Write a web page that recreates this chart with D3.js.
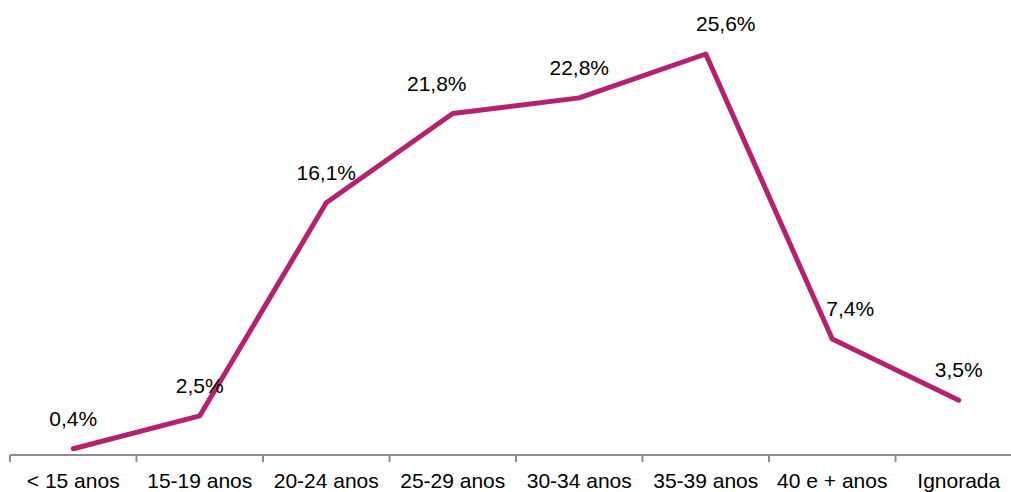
<!DOCTYPE html>
<html>
<head>
<meta charset="utf-8">
<script src="https://cdn.jsdelivr.net/npm/d3@7"></script>
<style>
  body { margin: 0; background: #fff; }
  svg { display: block; }
</style>
</head>
<body>
<svg id="chart" width="1011" height="492"></svg>
<script>
// data
var categories = ["< 15 anos", "15-19 anos", "20-24 anos", "25-29 anos", "30-34 anos", "35-39 anos", "40 e + anos", "Ignorada"];
var values = [0.4, 2.5, 16.1, 21.8, 22.8, 25.6, 7.4, 3.5];
var labels = ["0,4%", "2,5%", "16,1%", "21,8%", "22,8%", "25,6%", "7,4%", "3,5%"];

// label nudges, like the original placement
var labelDx = [0, 0, 0, -16, 0, 20, 18, 0];

var margin_left = 10, axis_y = 455, band_w = 126.5;
var line_color = "#b5216e", axis_color = "#8c8c8c";
var fontSize = 21;

var svg = d3.select("#chart");

var x = d3.scaleBand()
    .domain(categories)
    .range([margin_left, margin_left + band_w * categories.length]);

var y = d3.scaleLinear()
    .domain([0, 25.6])
    .range([axis_y, 54]);

//Axis
var axis = svg.append("g")
    .attr("transform", "translate(0," + axis_y + ")");
axis.append("line")
    .attr("x1", x.range()[0])
    .attr("x2", x.range()[1])
    .attr("stroke", axis_color)
    .attr("stroke-width", 2);
axis.selectAll("line.tick")
    .data(d3.range(categories.length + 1))
    .enter().append("line")
    .attr("class", "tick")
    .attr("x1", function(d){ return x.range()[0] + d * x.bandwidth(); })
    .attr("x2", function(d){ return x.range()[0] + d * x.bandwidth(); })
    .attr("y1", 0)
    .attr("y2", 7)
    .attr("stroke", axis_color)
    .attr("stroke-width", 2);
axis.selectAll("text")
    .data(categories)
    .enter().append("text")
    .text(function(d){ return d; })
    .attr("x", function(d){ return x(d) + x.bandwidth() / 2; })
    .attr("y", 33)
    .attr("text-anchor", "middle")
    .attr("font-family", "Liberation Sans, Arial, sans-serif")
    .attr("font-size", fontSize)
    .attr("fill", "#000");

//Line
var line = d3.line()
    .x(function(d, i){ return x(categories[i]) + x.bandwidth() / 2; })
    .y(function(d){ return y(d); });

svg.append("path")
    .datum(values)
    .attr("d", line)
    .attr("fill", "none")
    .attr("stroke", line_color)
    .attr("stroke-width", 5)
    .attr("stroke-linejoin", "round")
    .attr("stroke-linecap", "round");

// Labels
svg.selectAll("text.lbl")
    .data(values)
    .enter().append("text")
    .attr("class", "lbl")
    .text(function(d, i){ return labels[i]; })
    .attr("x", function(d, i){ return x(categories[i]) + x.bandwidth() / 2 + labelDx[i]; })
    .attr("y", function(d){ return y(d) - 23; })
    .attr("text-anchor", "middle")
    .attr("font-family", "Liberation Sans, Arial, sans-serif")
    .attr("font-size", fontSize)
    .attr("fill", "#000");
</script>
</body>
</html>
